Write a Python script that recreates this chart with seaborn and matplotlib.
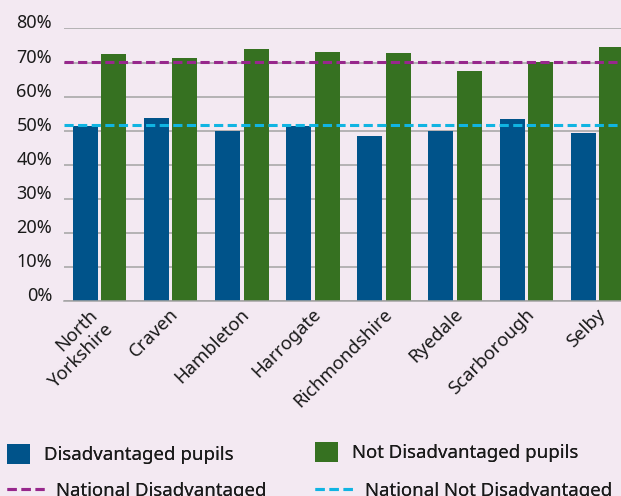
import numpy as np
import pandas as pd
import matplotlib
matplotlib.use("Agg")
import matplotlib.pyplot as plt
import matplotlib.patches as mpatches
import matplotlib.transforms as mtransforms
from matplotlib.lines import Line2D
import seaborn as sns

# data (percent)
areas = ["North\nYorkshire", "Craven", "Hambleton", "Harrogate",
         "Richmondshire", "Ryedale", "Scarborough", "Selby"]
disadvantaged = [51.5, 53.8, 50.0, 51.5, 48.5, 50.0, 53.5, 49.4]
not_disadvantaged = [72.4, 71.2, 74.1, 73.2, 72.9, 67.4, 70.3, 74.7]
national_disadvantaged = 70.2
national_not_disadvantaged = 51.6
y_ticks = [0, 10, 20, 30, 40, 50, 60, 70, 80]

series_names = ["Disadvantaged pupils", "Not Disadvantaged pupils"]

BG = "#f3e9f2"
BLUE = "#00538a"
GREEN = "#367121"
PURPLE = "#97278c"
CYAN = "#10b4e2"
GRID = "#a3a3a3"
TEXT = "#1a1a1a"

df = pd.DataFrame({
    "area": areas * 2,
    "value": disadvantaged + not_disadvantaged,
    "group": [series_names[0]] * len(areas) + [series_names[1]] * len(areas),
})

sns.set_theme(style="white")
plt.rcParams["font.family"] = ["Noto Sans", "DejaVu Sans"]

W, H = 621, 496
fig = plt.figure(figsize=(W / 100, H / 100), dpi=100, facecolor=BG)
ax = fig.add_axes([64 / W, (H - 301) / H, 569 / W, (301 - 28.5) / H])
ax.set_facecolor(BG)

sns.barplot(data=df, x="area", y="value", hue="group",
            palette=[BLUE, GREEN], width=0.8, gap=0.12,
            saturation=1, linewidth=0, legend=False, ax=ax)

# national reference lines
ax.axhline(national_disadvantaged, color=PURPLE, lw=2.2, dashes=(3, 1.45), zorder=3)
ax.axhline(national_not_disadvantaged, color=CYAN, lw=2.2, dashes=(3, 1.45), zorder=3)

ax.set_ylim(0, 80)
ax.set_xlim(-0.5, len(areas) - 0.5)
ax.set_yticks(y_ticks)
ax.set_yticklabels([f"{t}%" for t in y_ticks], va="baseline")
ax.yaxis.grid(True, color=GRID, lw=1.1)
ax.set_axisbelow(True)
ax.set_xlabel("")
ax.set_ylabel("")

for side in ["left", "top", "right"]:
    ax.spines[side].set_visible(False)
ax.spines["bottom"].set_color(GRID)
ax.spines["bottom"].set_linewidth(1.1)

ax.tick_params(axis="y", length=0, pad=8.5, labelsize=13, labelcolor=TEXT)
ax.tick_params(axis="x", length=0, pad=7, labelsize=13.3, labelcolor=TEXT)
for lab in ax.get_xticklabels():
    lab.set_rotation(45)
    lab.set_ha("right")
    lab.set_va("center")
    lab.set_rotation_mode("anchor")
    # nudge labels (pixels): two-line label sits lower in the reference
    if "\n" in lab.get_text():
        dx, dy = 3, 9
    else:
        dx, dy = 5, 1
    off = mtransforms.ScaledTranslation(dx / 100, -dy / 100, fig.dpi_scale_trans)
    lab.set_transform(lab.get_transform() + off)


def legend_entry(handle, label, x, y, handlelength, handleheight, pad):
    # one legend item, placed at pixel position (x = left, y = centre from top)
    leg = fig.legend([handle], [label], loc="center left",
                     bbox_to_anchor=(x / W, 1 - y / H),
                     frameon=False, borderpad=0, borderaxespad=0,
                     handlelength=handlelength, handleheight=handleheight,
                     handletextpad=pad, fontsize=13.4, labelcolor=TEXT)
    fig.add_artist(leg)


legend_entry(mpatches.Patch(color=BLUE, lw=0), series_names[0], 7, 454, 1.25, 1.25, 0.75)
legend_entry(mpatches.Patch(color=GREEN, lw=0), series_names[1], 315, 452, 1.25, 1.25, 0.75)
legend_entry(Line2D([], [], color=PURPLE, lw=2.2, dashes=(3, 1.6)),
             "National Disadvantaged", 7, 491, 2.0, 0.7, 0.65)
legend_entry(Line2D([], [], color=CYAN, lw=2.2, dashes=(3, 1.6)),
             "National Not Disadvantaged", 315, 491, 2.15, 0.7, 0.55)

fig.savefig("out.png", dpi=100, facecolor=BG)
